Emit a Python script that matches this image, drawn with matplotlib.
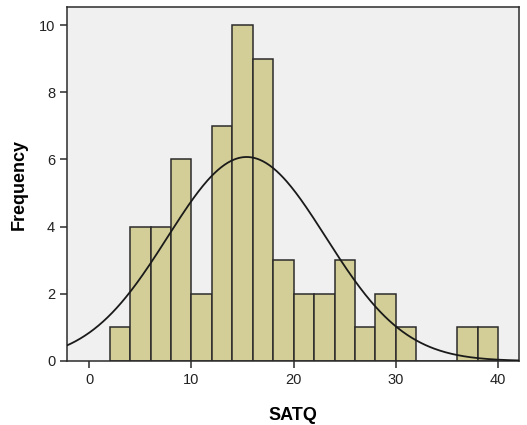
import numpy as np
import matplotlib.pyplot as plt

# histogram of SATQ, bins of width 2
bin_edges = [2, 4, 6, 8, 10, 12, 14, 16, 18, 20, 22, 24, 26, 28, 30, 32, 34, 36, 38, 40]
counts = [1, 4, 4, 6, 2, 7, 10, 9, 3, 2, 2, 3, 1, 2, 1, 0, 0, 1, 1]

# fitted normal curve parameters
curve_mean = 15.4
curve_sd = 7.75

plt.rcParams['font.family'] = ['Liberation Sans', 'DejaVu Sans']

fig = plt.figure(figsize=(5.27, 4.25), dpi=100)
ax = fig.add_axes([67 / 527, 1 - 361 / 425, (519 - 67) / 527, (361 - 7) / 425])
ax.set_facecolor('#F0F0F0')

edges = np.array(bin_edges, dtype=float)
widths = np.diff(edges)
ax.bar(edges[:-1], counts, width=widths, align='edge', color='#D3CE97',
       edgecolor='#2b2b2b', linewidth=1.1, zorder=2)

n = sum(counts)
bw = widths[0]
xs = np.linspace(-2.2, 42.1, 400)
ys = n * bw / (curve_sd * np.sqrt(2 * np.pi)) * np.exp(-0.5 * ((xs - curve_mean) / curve_sd) ** 2)
ax.plot(xs, ys, color='#1a1a1a', linewidth=1.3, zorder=3)

ax.set_xlim(-2.18, 42.05)
ax.set_ylim(0, 10.54)
ax.set_xticks([0, 10, 20, 30, 40])
ax.set_yticks([0, 2, 4, 6, 8, 10])
ax.tick_params(axis='both', direction='out', length=5, width=1.1, colors='#2b2b2b',
               labelsize=10.5, labelcolor='#222222')
ax.tick_params(axis='x', pad=4)
for s in ax.spines.values():
    s.set_color('#2b2b2b')
    s.set_linewidth(1.1)

ax.set_xlabel('SATQ', fontsize=13, fontweight='bold', labelpad=14)
ax.set_ylabel('Frequency', fontsize=13, fontweight='bold', labelpad=8)

fig.savefig('out.png', dpi=100, facecolor='white')
